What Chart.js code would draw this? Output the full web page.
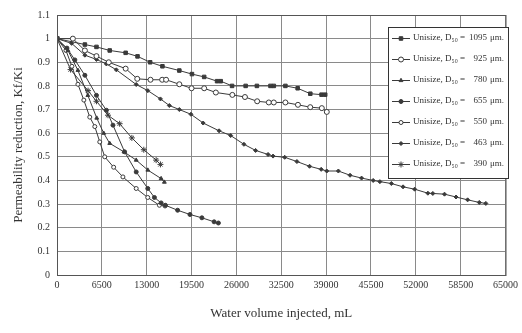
<!DOCTYPE html>
<html>
<head>
<meta charset="utf-8">
<script src="https://cdn.jsdelivr.net/npm/chart.js"></script>
<style>
  body { margin: 0; background: #fff; }
  #wrap { width: 522px; height: 333px; }
</style>
</head>
<body>
<div id="wrap"><canvas id="perm" width="522" height="333"></canvas></div>
<script>
// values
var xTicks = [0, 6500, 13000, 19500, 26000, 32500, 39000, 45500, 52000, 58500, 65000];

var vol1095 = [0, 4040, 5720, 7640, 9950, 11670, 13500, 15280, 17730, 19560, 21330, 23200, 23730, 25370, 27340, 28970, 30940, 31420, 33100, 34880, 36710, 38340, 38870];
var kr1095  = [1.0, 0.975, 0.965, 0.95, 0.94, 0.925, 0.90, 0.883, 0.865, 0.85, 0.838, 0.82, 0.82, 0.80, 0.80, 0.80, 0.80, 0.80, 0.80, 0.79, 0.767, 0.763, 0.763];

var vol925 = [0, 2300, 4040, 5720, 7500, 9950, 11630, 13550, 15240, 15810, 17730, 19500, 21330, 23020, 25410, 27240, 29010, 30700, 31420, 33100, 34920, 36700, 38380, 39100];
var kr925  = [1.0, 1.0, 0.95, 0.926, 0.90, 0.873, 0.83, 0.826, 0.826, 0.826, 0.807, 0.79, 0.79, 0.772, 0.762, 0.753, 0.735, 0.73, 0.73, 0.73, 0.72, 0.71, 0.706, 0.69];

var vol780 = [0, 1590, 3030, 4470, 5760, 6770, 7640, 9700, 11480, 13160, 15090, 15560];
var kr780  = [1.0, 0.95, 0.866, 0.76, 0.664, 0.60, 0.557, 0.521, 0.486, 0.444, 0.408, 0.393];

var vol655 = [0, 1440, 2590, 4040, 5720, 7160, 8110, 9800, 11480, 13160, 14120, 15090, 15710, 17480, 19270, 21000, 22770, 23390];
var kr655  = [1.0, 0.96, 0.91, 0.845, 0.76, 0.697, 0.634, 0.521, 0.436, 0.366, 0.328, 0.305, 0.295, 0.274, 0.256, 0.242, 0.225, 0.22];

var vol550 = [0, 1300, 2160, 3030, 3890, 4750, 5480, 6200, 6920, 8210, 9550, 11480, 13150, 14840, 15660];
var kr550  = [1.0, 0.95, 0.883, 0.807, 0.74, 0.668, 0.628, 0.563, 0.50, 0.456, 0.415, 0.366, 0.328, 0.295, 0.292];

var vol463 = [0, 2120, 4040, 5720, 7160, 8600, 11480, 13160, 14990, 16280, 17730, 19410, 21180, 23490, 25170, 27090, 28780, 30590, 31310, 33000, 34770, 36600, 38290, 39090, 40780, 42470, 44140, 45820, 46790, 48460, 50150, 51830, 53750, 54470, 56160, 57830, 59510, 61200, 62150];
var kr463  = [1.0, 0.98, 0.93, 0.912, 0.893, 0.868, 0.806, 0.78, 0.745, 0.717, 0.70, 0.68, 0.643, 0.61, 0.59, 0.553, 0.527, 0.51, 0.503, 0.498, 0.48, 0.46, 0.447, 0.44, 0.44, 0.422, 0.41, 0.40, 0.395, 0.387, 0.373, 0.363, 0.346, 0.345, 0.342, 0.33, 0.318, 0.307, 0.303];

var vol390 = [0, 1970, 4500, 5720, 7390, 9080, 10850, 12580, 14370, 14990];
var kr390  = [1.0, 0.869, 0.78, 0.735, 0.676, 0.64, 0.58, 0.53, 0.486, 0.468];

var sizes = ['1095', '925', '780', '655', '550', '463', '390'];

function pts(xs, ys) {
    return xs.map(function (x, i) { return { x: x, y: ys[i] }; });
}

var ink = '#3a3a3a';
function series(label, xs, ys, style, fill, r) {
    return {
        label: label,
        data: pts(xs, ys),
        borderColor: ink,
        backgroundColor: fill,
        borderWidth: 1,
        pointStyle: style,
        pointRadius: r,
        pointBorderWidth: 1,
        pointBorderColor: ink,
        pointBackgroundColor: fill,
        tension: 0
    };
}

var datasets = [
    series(sizes[0], vol1095, kr1095, 'rect', ink, 2.5),
    series(sizes[1], vol925, kr925, 'circle', '#fff', 2.5),
    series(sizes[2], vol780, kr780, 'triangle', ink, 2.2),
    series(sizes[3], vol655, kr655, 'circle', ink, 2),
    series(sizes[4], vol550, kr550, 'circle', '#fff', 2),
    series(sizes[5], vol463, kr463, 'rectRot', ink, 2),
    series(sizes[6], vol390, kr390, 'star', ink, 3)
];

// legend box drawn inside the plot, like the scan
var boxLegend = {
    id: 'boxLegend',
    afterDraw: function (chart) {
        var c = chart.ctx;
        var x0 = 388, y0 = 27, w = 120, h = 151;
        c.save();
        c.fillStyle = '#fff';
        c.fillRect(x0, y0, w, h);
        c.strokeStyle = '#333';
        c.lineWidth = 1;
        c.strokeRect(x0 + 0.5, y0 + 0.5, w, h);
        chart.data.datasets.forEach(function (ds, i) {
            var y = 38 + i * 21;
            c.strokeStyle = ink;
            c.beginPath();
            c.moveTo(392, y + 0.5);
            c.lineTo(410, y + 0.5);
            c.stroke();
            c.fillStyle = ds.pointBackgroundColor;
            Chart.helpers.drawPoint(c, {
                pointStyle: ds.pointStyle, radius: ds.pointRadius, rotation: 0, borderWidth: 1
            }, 401, y + 0.5);
            c.fillStyle = '#333';
            c.font = '9px "Liberation Serif"';
            c.textBaseline = 'middle';
            c.textAlign = 'left';
            c.fillText('Unisize, D\u2085\u2080', 413, y);
            c.fillText('=', 460, y);
            c.textAlign = 'right';
            c.fillText(ds.label, 487, y);
            c.textAlign = 'left';
            c.fillText('\u03bcm.', 490, y);
        });
        c.restore();
    }
};

var frame = {
    id: 'frame',
    afterDatasetsDraw: function (chart) {
        var a = chart.chartArea, c = chart.ctx;
        c.save();
        c.strokeStyle = '#555';
        c.lineWidth = 1;
        c.strokeRect(a.left + 0.5, a.top + 0.5, a.right - a.left, a.bottom - a.top);
        c.restore();
    }
};

new Chart(document.getElementById('perm'), {
    type: 'line',
    data: { datasets: datasets },
    plugins: [frame, boxLegend],
    options: {
        responsive: false,
        animation: false,
        layout: { padding: { top: 15, right: 15, left: 7, bottom: 8 } },
        plugins: { legend: { display: false }, tooltip: { enabled: false } },
        scales: {
            x: {
                type: 'linear',
                min: 0, max: 65000,
                afterBuildTicks: function (s) { s.ticks = xTicks.map(function (v) { return { value: v }; }); },
                afterFit: function (s) { s.height = 50; },
                grid: { color: '#8a8a8a', lineWidth: 1, drawTicks: false },
                border: { display: false },
                ticks: {
                    color: '#333', padding: 4, maxRotation: 0,
                    font: { family: 'Liberation Serif', size: 10 },
                    callback: function (v) { return String(v); }
                },
                title: {
                    display: true, text: 'Water volume injected, mL', color: '#333',
                    font: { family: 'Liberation Serif', size: 13 }, padding: { top: 8 }
                }
            },
            y: {
                min: 0, max: 1.1,
                afterFit: function (s) { s.width = 50; },
                grid: { color: '#8a8a8a', lineWidth: 1, drawTicks: false },
                border: { display: false },
                ticks: {
                    stepSize: 0.1, color: '#333', padding: 7,
                    font: { family: 'Liberation Serif', size: 10 },
                    callback: function (v) { return String(Math.round(v * 10) / 10); }
                },
                title: {
                    display: true, text: 'Permeability reduction, Kf/Ki', color: '#333',
                    font: { family: 'Liberation Serif', size: 13 }, padding: { bottom: 4 }
                }
            }
        }
    }
});
</script>
</body>
</html>
